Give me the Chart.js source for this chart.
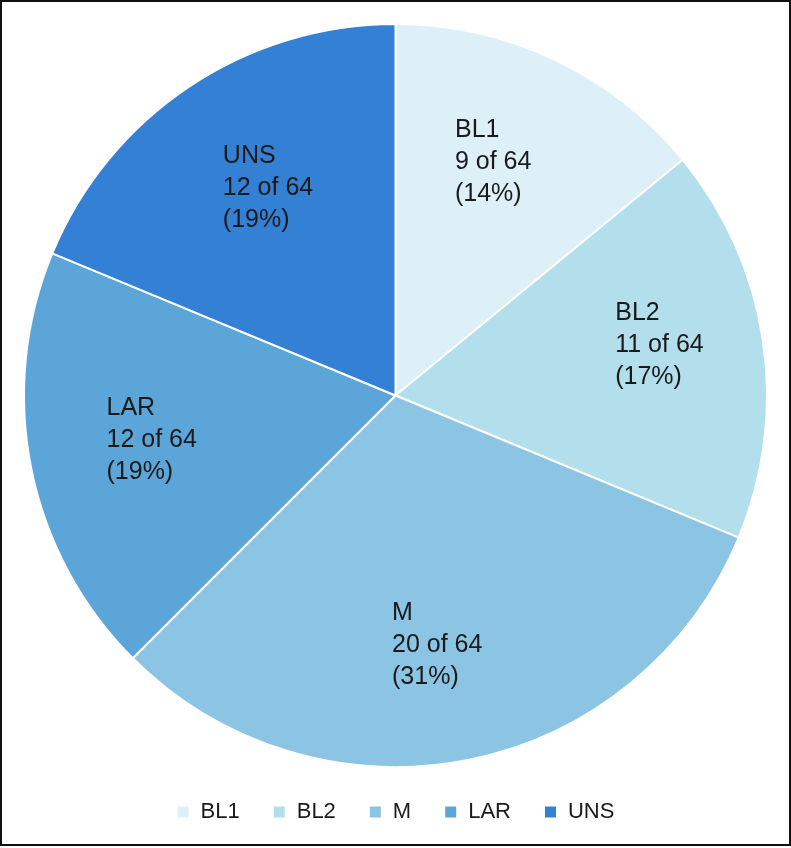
<!DOCTYPE html>
<html lang="en">
<head>
<meta charset="UTF-8">
<title>Subtype distribution</title>
<script src="https://cdn.jsdelivr.net/npm/chart.js@4.4.0/dist/chart.umd.min.js"></script>
<style>
  html, body { margin: 0; padding: 0; background: #fff; }
  #frame { position: absolute; left: 0; top: 0; width: 787px; height: 842px; border: 2px solid #111; background: #fff; }
  #wrap { position: relative; width: 787px; height: 842px; }
</style>
</head>
<body>
<div id="frame"><div id="wrap"><canvas id="pie"></canvas></div></div>
<script>
// data
const subtypes = ['BL1', 'BL2', 'M', 'LAR', 'UNS'];
const counts = [9, 11, 20, 12, 12];
const total = 64;
const colors = ['#DDF0F8', '#B3DEEC', '#8CC4E4', '#5CA5D9', '#3380D5'];

const FONT = '"Liberation Sans", Arial, sans-serif';

// labels inside slices: "name / n of 64 / (pct%)"
// anchor = left edge of the text block, middle line; given as angle from top (deg) and radius fraction
const sliceLabels = {
  id: 'sliceLabels',
  afterDatasetsDraw(chart, args, opts) {
    const ctx = chart.ctx;
    const meta = chart.getDatasetMeta(0);
    ctx.save();
    ctx.font = opts.size + 'px ' + FONT;
    ctx.fillStyle = '#1a1a1a';
    ctx.textAlign = 'left';
    ctx.textBaseline = 'middle';
    meta.data.forEach((arc, i) => {
      const lines = [subtypes[i], counts[i] + ' of ' + total, '(' + Math.round(counts[i] / total * 100) + '%)'];
      const a = opts.anchor[i];
      const ang = (a.deg - 90) * Math.PI / 180;
      const x = arc.x + Math.cos(ang) * arc.outerRadius * a.r;
      const y = arc.y + Math.sin(ang) * arc.outerRadius * a.r;
      lines.forEach((l, k) => ctx.fillText(l, x, y + (k - 1) * opts.lineHeight));
    });
    ctx.restore();
  }
};

new Chart(document.getElementById('pie'), {
  type: 'pie',
  data: {
    labels: subtypes,
    datasets: [{
      data: counts,
      backgroundColor: colors,
      borderColor: '#ffffff',
      borderWidth: 2
    }]
  },
  options: {
    responsive: true,
    maintainAspectRatio: false,
    animation: false,
    layout: { padding: { top: 21, bottom: 11 } },
    plugins: {
      legend: {
        position: 'bottom',
        labels: {
          boxWidth: 13,
          boxHeight: 13,
          padding: 33,
          color: '#1a1a1a',
          font: { family: FONT, size: 22 }
        }
      },
      tooltip: { enabled: false },
      sliceLabels: {
        size: 25,
        lineHeight: 32,
        anchor: [
          { deg: 14.3, r: 0.648 },
          { deg: 77.0, r: 0.607 },
          { deg: 180.8, r: 0.671 },
          { deg: 261.3, r: 0.787 },
          { deg: 320.2, r: 0.726 }
        ]
      }
    }
  },
  plugins: [sliceLabels]
});
</script>
</body>
</html>
